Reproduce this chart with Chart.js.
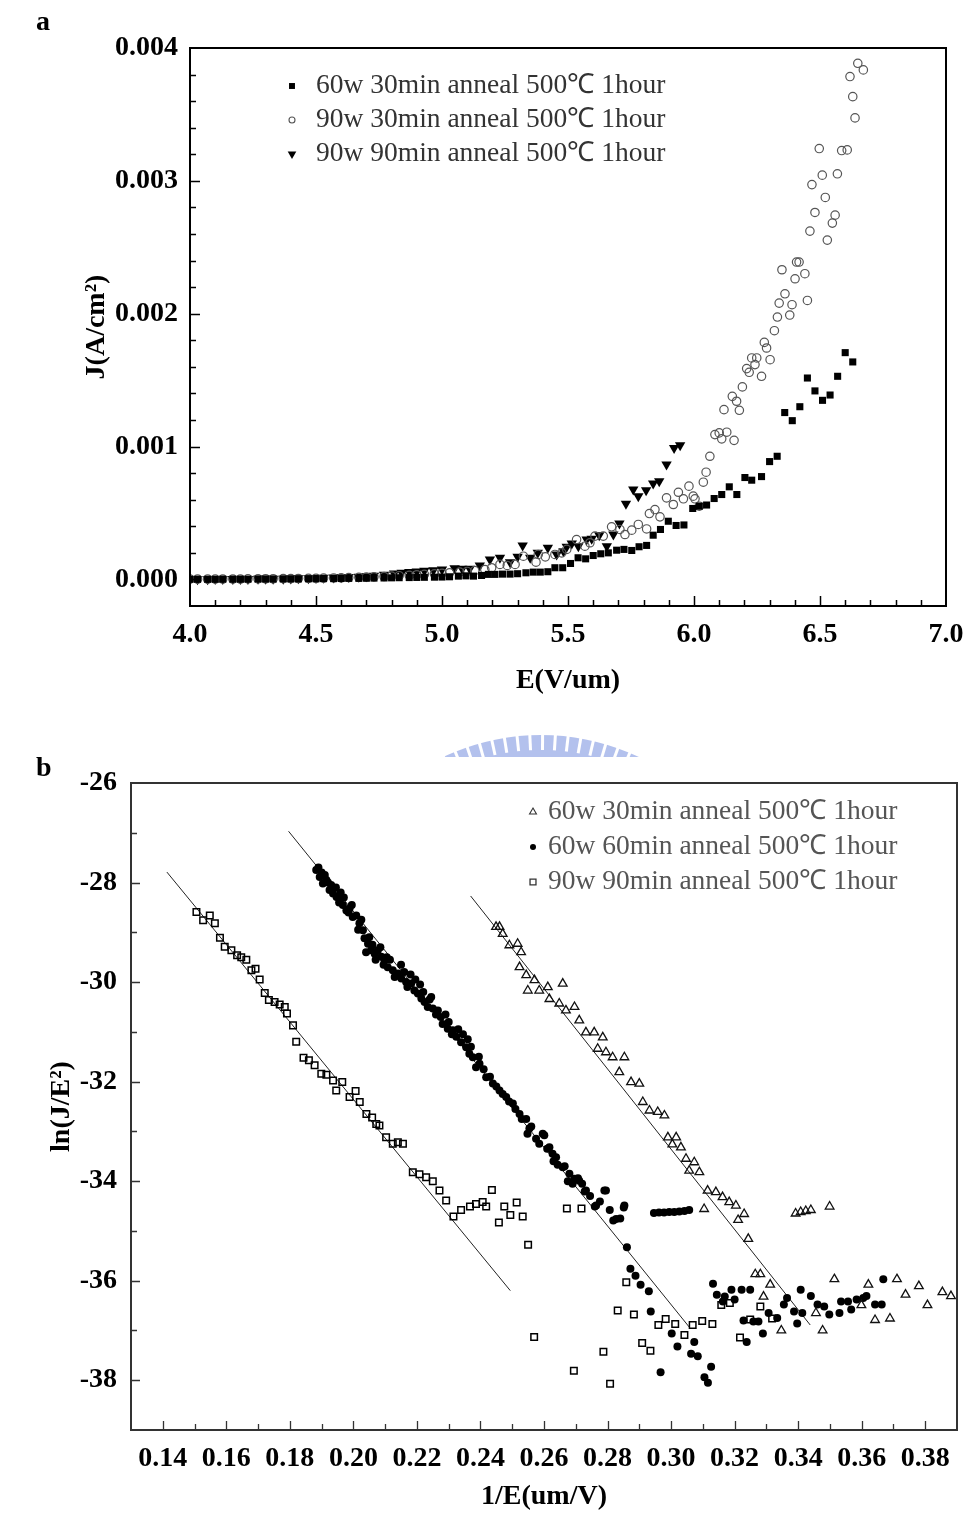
<!DOCTYPE html>
<html>
<head>
<meta charset="utf-8">
<script src="https://cdn.jsdelivr.net/npm/chart.js@4/dist/chart.umd.min.js"></script>
<style>
  html, body { margin: 0; padding: 0; background: #fff; }
  body { width: 965px; height: 1514px; position: relative; overflow: hidden; }
  canvas { position: absolute; left: 0; }
  #logo { top: 720px; z-index: 0; }
  #chartA { top: 0; z-index: 1; }
  #chartB { top: 720px; z-index: 1; }
  .panel { position: absolute; font: bold 28px "Liberation Serif", serif; color: #000; z-index: 2; }
</style>
</head>
<body>
<div class="panel" style="left:36px; top:5px;">a</div>
<div class="panel" style="left:36px; top:751px;">b</div>
<canvas id="logo" width="965" height="60"></canvas>
<canvas id="chartA" width="965" height="710"></canvas>
<canvas id="chartB" width="965" height="794"></canvas>
<script>
// ---------- Panel a: J–E emission curves ----------
const legendA = ['60w 30min anneal 500\u2103 1hour', '90w 30min anneal 500\u2103 1hour', '90w 90min anneal 500\u2103 1hour'];
const tickValsAx = [4.0, 4.5, 5.0, 5.5, 6.0, 6.5, 7.0];
const tickLblAx = ['4.0', '4.5', '5.0', '5.5', '6.0', '6.5', '7.0'];
const tickValsAy = [0, 0.001, 0.002, 0.003, 0.004];
const tickLblAy = ['0.000', '0.001', '0.002', '0.003', '0.004'];

// 60w 30min (filled squares)
const aSqE = [4.00,4.03,4.07,4.10,4.13,4.17,4.20,4.23,4.27,4.30,4.33,4.37,4.40,4.43,4.47,4.50,4.53,4.57,4.60,4.63,4.67,4.70,4.73,4.77,4.80,4.83,4.87,4.90,4.93,4.97,5.00,
  5.03,5.065,5.095,5.125,5.157,5.184,5.21,5.24,5.27,5.30,5.333,5.362,5.39,5.42,5.448,5.479,5.51,5.54,5.57,5.60,5.63,5.66,5.693,5.722,5.753,5.782,5.812,5.838,5.867,5.898,
  5.929,5.96,5.995,6.021,6.05,6.08,6.11,6.14,6.17,6.202,6.229,6.268,6.30,6.33,6.36,6.39,6.42,6.45,6.48,6.51,6.54,6.57,6.60,6.63];
const aSqJ = [0.000001,0.000001,0.000001,0.000001,0.000002,0.000002,0.000002,0.000002,0.000003,0.000003,0.000003,0.000004,0.000004,0.000004,0.000005,0.000005,0.000006,0.000006,0.000007,0.000008,0.000008,0.000009,0.00001,0.000011,0.000012,0.000013,0.000014,0.000015,0.000016,0.000017,0.000018,
  0.00002,0.000025,0.000027,0.000025,0.00003,0.000038,0.000038,0.00004,0.00004,0.000043,0.00005,0.000055,0.000055,0.000058,0.000088,0.000088,0.00012,0.000163,0.000155,0.00018,
  0.000193,0.0002,0.00022,0.000226,0.000218,0.000246,0.000256,0.000333,0.000376,0.000438,0.000406,0.00041,0.000534,0.000551,0.00056,0.000609,0.000639,0.000697,0.000639,0.000767,
  0.000747,0.000774,0.000887,0.000927,0.001256,0.001195,0.0013,0.001516,0.001419,0.001348,0.001388,0.001529,0.001707,0.001637];

// 90w 30min (open circles)
const aCircE = [4.00,4.03,4.07,4.10,4.13,4.17,4.20,4.23,4.27,4.30,4.33,4.37,4.40,4.43,4.47,4.50,4.53,4.57,4.60,4.63,4.67,4.70,4.73,4.77,4.80,4.83,4.87,4.90,4.93,4.97,5.00,5.03,5.07,5.10,5.13,5.17,
  5.197,5.23,5.259,5.29,5.323,5.373,5.382,5.41,5.448,5.475,5.495,5.534,5.567,5.587,5.607,5.64,5.673,5.706,5.726,5.753,5.779,5.812,5.823,5.845,5.865,5.891,5.918,5.938,5.958,5.98,5.997,6.004,6.021,6.037,6.048,6.063,
  6.083,6.100,6.110,6.119,6.130,6.152,6.159,6.169,6.180,6.192,6.209,6.219,6.229,6.242,6.249,6.268,6.279,6.288,6.302,6.319,6.331,6.338,6.349,6.361,6.380,6.389,6.401,6.407,6.417,6.440,6.450,6.460,6.468,6.480,
  6.497,6.509,6.521,6.529,6.549,6.560,6.569,6.586,6.608,6.619,6.630,6.639,6.650,6.672];
const aCircJ = [0.000002,0.000002,0.000002,0.000002,0.000003,0.000003,0.000003,0.000004,0.000004,0.000005,0.000005,0.000006,0.000006,0.000007,0.000008,0.000009,0.00001,0.000011,0.000012,0.000014,0.000016,0.000018,0.00002,0.000022,0.000025,0.000028,0.000031,0.000034,0.000038,0.000042,0.000046,0.00005,0.000055,0.00006,0.000066,0.000074,
  0.000088,0.000113,0.000105,0.000113,0.000175,0.00013,0.000188,0.00017,0.000188,0.0002,0.000226,0.0003,0.00025,0.000276,0.000326,0.000326,0.000396,0.000376,0.000338,0.000371,0.000414,0.00038,0.000496,0.000526,0.000471,0.000614,0.000564,0.000656,0.000607,0.000702,0.000627,0.000607,0.000551,0.000732,0.000807,0.000927,
  0.00109,0.001103,0.001058,0.001278,0.001108,0.001378,0.001047,0.001341,0.001273,0.001449,0.001587,0.001559,0.001667,0.001617,0.001667,0.001529,0.001784,0.001742,0.001654,0.001872,0.001975,0.00208,0.002331,0.00215,0.00199,0.002068,0.002263,0.002389,0.002389,0.002301,0.0021,0.002622,0.002972,0.002762,
  0.003243,0.003043,0.002875,0.002554,0.002682,0.002742,0.003053,0.003228,0.003233,0.003785,0.003634,0.003474,0.003885,0.003835];

// 90w 90min (filled down-triangles)
const aTriE = [4.00,4.03,4.07,4.10,4.13,4.17,4.20,4.23,4.27,4.30,4.33,4.37,4.40,4.43,4.47,4.50,4.53,4.57,4.60,4.63,4.67,4.70,4.73,4.77,
  4.81,4.84,4.87,4.90,4.93,4.966,5.00,5.05,5.08,5.11,5.15,5.19,5.23,5.27,5.30,5.32,5.35,5.38,5.42,5.455,5.482,5.495,5.515,5.541,5.574,5.594,5.624,5.654,5.68,5.704,
  5.73,5.759,5.779,5.81,5.838,5.862,5.891,5.921,5.945];
const aTriJ = [0.000002,0.000002,0.000002,0.000003,0.000003,0.000003,0.000004,0.000004,0.000005,0.000005,0.000006,0.000006,0.000007,0.000008,0.000009,0.00001,0.000012,0.000014,0.000016,0.000018,0.00002,0.000024,0.000028,0.000035,
  0.000045,0.00005,0.000055,0.00006,0.000065,0.00007,0.000075,0.000085,0.00008,0.00008,0.000105,0.00015,0.000163,0.00013,0.00017,0.000255,0.000163,0.0002,0.000238,0.000188,0.000213,0.000246,0.000271,0.00025,0.0003,0.000306,0.000333,0.00025,0.000338,0.000421,
  0.000569,0.000677,0.000627,0.000671,0.000722,0.000739,0.000865,0.00099,0.00101];

// ---------- Panel b: Fowler–Nordheim plot ----------
const legendB = ['60w 30min anneal 500\u2103 1hour', '60w 60min anneal 500\u2103 1hour', '90w 90min anneal 500\u2103 1hour'];
const tickValsBx = [0.14,0.16,0.18,0.20,0.22,0.24,0.26,0.28,0.30,0.32,0.34,0.36,0.38];
const tickLblBx = ['0.14','0.16','0.18','0.20','0.22','0.24','0.26','0.28','0.30','0.32','0.34','0.36','0.38'];
const tickValsBy = [-26,-28,-30,-32,-34,-36,-38];
const tickLblBy = ['-26','-28','-30','-32','-34','-36','-38'];

// 60w 30min (open triangles)
const bTriX = [0.2449,0.2460,0.2470,0.2491,0.2517,0.2528,0.2523,0.2544,0.2549,0.2570,0.2585,0.2612,0.2617,0.2659,0.2648,0.2669,0.2696,0.2711,0.2732,0.2758,0.2785,0.2769,0.2795,0.2816,0.2853,0.2837,0.2874,0.2900,0.2911,0.2932,
  0.2958,0.2979,0.2990,0.3016,0.3031,0.3047,0.3057,0.3089,0.3073,0.3115,0.3141,0.3162,0.3183,0.3204,0.3230,0.3104,0.3004,0.3211,0.3243,0.3392,0.3408,0.3424,0.3440,0.3499,
  0.3265,0.3281,0.3312,0.3291,0.3347,0.3456,0.3477,0.3514,0.3621,0.3599,0.3642,0.3689,0.3711,0.3738,0.3780,0.3807,0.3854,0.3881];
const bTriY = [-28.89,-28.89,-29.03,-29.26,-29.23,-29.40,-29.70,-29.86,-30.17,-29.96,-30.17,-30.10,-30.34,-30.03,-30.43,-30.57,-30.50,-30.77,-31.01,-31.01,-31.11,-31.34,-31.41,-31.51,-31.51,-31.81,-32.01,-32.04,-32.41,-32.58,
  -32.61,-32.68,-33.12,-33.12,-33.32,-33.55,-33.79,-33.82,-33.62,-34.19,-34.22,-34.32,-34.42,-34.49,-34.66,-34.56,-33.26,-34.78,-35.16,-34.65,-34.62,-34.60,-34.58,-34.51,
  -35.87,-35.87,-36.08,-36.32,-37.00,-36.65,-37.00,-35.97,-36.08,-36.49,-36.79,-36.76,-35.97,-36.28,-36.11,-36.49,-36.23,-36.31];

// 60w 60min (filled circles)
const bCircX = [0.1883,0.1894,0.1904,0.1915,0.1925,0.1936,0.1947,0.1957,0.1967,0.1978,0.1988,0.1998,0.2009,0.2019,0.2030,0.2035,0.2046,0.2056,0.2067,0.2077,
  0.2088,0.2098,0.2108,0.2124,0.2140,0.2151,0.2166,0.2182,0.2192,0.2203,0.2214,0.2224,0.2234,0.2250,0.2266,0.2281,0.2297,0.2313,0.2324,0.2339,
  0.2355,0.2365,0.2376,0.2386,0.1900,0.1930,0.1960,0.2040,0.2070,0.2105,0.2150,0.2180,0.2210,0.2245,0.2275,0.2300,0.2330,0.2360,
  0.2397,0.2418,0.2439,0.2460,0.2481,0.2502,0.2523,0.2544,0.2554,0.2575,0.2601,0.2617,0.2638,0.2659,0.2680,0.2696,0.2711,0.2732,0.2764,0.2795,0.2827,0.2853,
  0.1890,0.1910,0.1920,0.1945,0.1955,0.1970,0.1985,0.1995,0.2015,0.2025,0.2050,0.2060,0.2085,0.2095,0.2115,0.2130,0.2160,0.2170,0.2195,0.2220,
  0.2240,0.2260,0.2290,0.2310,0.2345,0.2370,0.2395,0.2410,0.2430,0.2450,0.2470,0.2490,0.2510,0.2530,0.2560,0.2585,0.2610,0.2630,0.2665,0.2690,0.2720,0.2745,
  0.2596,0.2627,0.2548,0.2643,0.2675,0.2707,0.2728,0.2760,0.2790,0.2776,0.2807,0.2818,0.2851,0.2840,
  0.2861,0.2872,0.2888,0.2904,0.2930,0.2936,0.2967,0.3002,0.3020,0.3073,0.3063,0.3084,0.3126,0.3105,0.3116,
  0.2946,0.2962,0.2978,0.2994,0.3010,0.3026,0.3042,0.3057,
  0.3132,0.3144,0.3169,0.3190,0.3222,0.3249,0.3163,0.3200,0.3228,0.3259,0.3275,0.3289,0.3238,0.3307,0.3334,0.3355,0.3365,0.3387,0.3397,0.3413,
  0.3440,0.3461,0.3482,0.3498,0.3530,0.3535,0.3557,0.3567,0.3584,0.3605,0.3615,0.3642,0.3663,0.3668,0.3408];
const bCircY = [-27.75,-27.89,-28.02,-27.95,-28.15,-28.22,-28.29,-28.35,-28.45,-28.56,-28.52,-28.69,-28.66,-28.82,-28.96,-29.12,-29.23,-29.36,-29.43,-29.36,
  -29.49,-29.56,-29.70,-29.76,-29.83,-29.93,-30.00,-30.03,-30.17,-30.23,-30.33,-30.40,-30.50,-30.53,-30.57,-30.84,-30.94,-30.97,-31.10,-31.21,
  -31.31,-31.44,-31.51,-31.71,-27.80,-28.05,-28.20,-29.40,-29.55,-29.50,-29.65,-29.85,-30.05,-30.30,-30.70,-30.80,-30.95,-31.15,
  -31.64,-31.91,-32.04,-32.18,-32.31,-32.44,-32.65,-32.75,-32.94,-33.15,-33.08,-33.32,-33.52,-33.72,-33.85,-33.95,-33.99,-34.19,-34.49,-34.19,-34.76,-34.49,
  -27.70,-27.85,-28.00,-28.10,-28.40,-28.30,-28.60,-28.45,-28.95,-28.75,-29.10,-29.25,-29.30,-29.65,-29.55,-29.90,-29.80,-30.10,-29.95,-30.20,
  -30.35,-30.65,-30.65,-31.05,-31.05,-31.30,-31.50,-31.75,-31.90,-32.10,-32.25,-32.40,-32.55,-32.75,-32.90,-33.25,-33.35,-33.60,-33.70,-34.05,-34.05,-34.30,
  -33.05,-33.45,-33.05,-33.67,-34.00,-33.94,-34.21,-34.51,-34.19,-34.41,-34.58,-34.79,-34.53,-34.75,
  -35.33,-35.76,-35.90,-36.08,-36.21,-36.62,-37.84,-37.06,-37.32,-37.23,-37.47,-37.52,-37.73,-37.94,-38.05,
  -34.64,-34.63,-34.63,-34.62,-34.62,-34.61,-34.60,-34.58,
  -36.06,-36.28,-36.32,-36.18,-36.18,-36.18,-36.42,-36.38,-36.80,-36.82,-36.82,-37.06,-37.23,-36.65,-36.75,-36.48,-36.35,-36.62,-36.86,-36.65,
  -36.31,-36.48,-36.52,-36.68,-36.65,-36.42,-36.42,-36.58,-36.38,-36.35,-36.31,-36.48,-36.48,-35.97,-36.18];

// 90w 90min (open squares)
const bSqX = [0.1506,0.1527,0.1548,0.1564,0.1580,0.1595,0.1616,0.1634,0.1647,0.1663,0.1679,0.1692,0.1705,0.1721,0.1734,0.1752,0.1768,0.1784,0.1791,0.1810,
  0.1820,0.1843,0.1860,0.1878,0.1899,0.1915,0.1936,0.1946,0.1965,0.1988,0.2007,0.2020,0.2041,0.2059,0.2072,0.2082,0.2103,0.2124,0.2140,0.2156,
  0.2187,0.2208,0.2229,0.2250,0.2271,0.2292,0.2315,0.2339,0.2367,0.2386,0.2407,0.2418,0.2436,0.2458,0.2475,0.2494,0.2514,0.2533,0.2550,0.2569,
  0.2672,0.2694,0.2718,0.2787,0.2808,0.2832,0.2859,0.2883,0.2909,0.2935,0.2960,0.2983,0.3013,0.3042,0.3068,0.3098,0.3130,0.3158,0.3185,0.3217,0.3249,0.3281,0.3318];
const bSqY = [-28.59,-28.76,-28.66,-28.82,-29.11,-29.29,-29.36,-29.46,-29.50,-29.55,-29.76,-29.73,-29.95,-30.22,-30.36,-30.40,-30.45,-30.50,-30.63,-30.87,
  -31.20,-31.52,-31.57,-31.67,-31.84,-31.86,-31.98,-32.18,-32.01,-32.31,-32.19,-32.41,-32.65,-32.72,-32.85,-32.88,-33.12,-33.25,-33.22,-33.25,
  -33.82,-33.86,-33.92,-34.00,-34.19,-34.39,-34.71,-34.58,-34.51,-34.46,-34.42,-34.51,-34.18,-34.83,-34.51,-34.68,-34.43,-34.71,-35.28,-37.13,
  -34.55,-37.81,-34.55,-37.43,-38.07,-36.60,-36.03,-36.68,-37.25,-37.41,-36.89,-36.77,-36.87,-37.09,-36.89,-36.81,-36.87,-36.49,-36.45,-37.14,-36.78,-36.52,-36.76];

// Linear fits of the emission regions
const fitTriX = [0.2369, 0.3438], fitTriY = [-28.27, -36.89];
const fitCircX = [0.1796, 0.3057], fitCircY = [-26.97, -36.93];
const fitSqX = [0.1413, 0.2494], fitSqY = [-27.79, -36.20];

// ---------- helpers ----------
const pts = (xs, ys) => xs.map((x, i) => ({ x: x, y: ys[i] }));
const SERIF = '"Liberation Serif", "Times New Roman", serif';

function frameTicks(o) {
  return {
    id: 'frameTicks',
    afterDraw(chart) {
      const { ctx, chartArea: a, scales: { x, y } } = chart;
      ctx.save();
      ctx.strokeStyle = o.color;
      ctx.lineWidth = o.frameW;
      ctx.strokeRect(a.left, a.top, a.right - a.left, a.bottom - a.top);
      ctx.lineWidth = o.tickW;
      ctx.beginPath();
      const nx = Math.round((o.x1 - o.x0) / o.xs);
      for (let i = 0; i <= nx; i++) {
        const v = o.x0 + i * o.xs;
        if (v <= x.min + 1e-9 || v >= x.max - 1e-9) continue;
        const p = Math.round(x.getPixelForValue(v)) + 0.5;
        const len = (i % o.xMajEvery === o.xMajOff) ? o.major : o.minor;
        ctx.moveTo(p, a.bottom); ctx.lineTo(p, a.bottom - len);
      }
      const ny = Math.round((o.y1 - o.y0) / o.ys);
      for (let i = 0; i <= ny; i++) {
        const v = o.y0 + i * o.ys;
        if (v <= y.min + 1e-12 || v >= y.max - 1e-12) continue;
        const p = Math.round(y.getPixelForValue(v)) + 0.5;
        const len = (i % o.yMajEvery === o.yMajOff) ? o.major : o.minor;
        ctx.moveTo(a.left, p); ctx.lineTo(a.left + len, p);
      }
      ctx.stroke();
      ctx.restore();
    }
  };
}

function legendBox(items, o) {
  return {
    id: 'legendBox',
    afterDraw(chart) {
      const ctx = chart.ctx;
      ctx.save();
      ctx.font = o.font;
      ctx.textBaseline = 'middle';
      items.forEach((it, i) => {
        const yy = o.y0 + i * o.dy;
        ctx.fillStyle = it.fill;
        ctx.strokeStyle = it.stroke;
        ctx.lineWidth = it.lw;
        Chart.helpers.drawPoint(ctx, { pointStyle: it.style, rotation: it.rot || 0, radius: it.r, borderWidth: it.lw }, o.mx, yy);
        ctx.fillStyle = o.color;
        ctx.fillText(it.label, o.tx, yy);
      });
      ctx.restore();
    }
  };
}

function axisCfg(o) {
  return {
    type: 'linear',
    min: o.min, max: o.max,
    grid: { display: false, drawTicks: false },
    border: { display: false },
    ticks: {
      autoSkip: false, maxRotation: 0, padding: o.pad,
      color: '#000',
      font: { family: SERIF, size: 28, weight: 'bold' },
      callback: (v, i) => o.labels[i]
    },
    afterBuildTicks(s) { s.ticks = o.vals.map(v => ({ value: v })); },
    afterFit(s) {
      if (o.w) s.width = o.w;
      if (o.h) { s.height = o.h; s.paddingLeft = 0; s.paddingRight = 0; }
    },
    title: {
      display: true, text: o.title, color: '#000',
      font: { family: SERIF, size: 28, weight: 'bold' },
      padding: o.tpad
    }
  };
}

// ---------- chart a ----------
new Chart(document.getElementById('chartA'), {
  type: 'scatter',
  data: {
    datasets: [
      { label: legendA[0], data: pts(aSqE, aSqJ), pointStyle: 'rect', pointRadius: 5, backgroundColor: '#000', borderColor: '#000', borderWidth: 0 },
      { label: legendA[1], data: pts(aCircE, aCircJ), pointStyle: 'circle', pointRadius: 4.2, backgroundColor: 'rgba(0,0,0,0)', borderColor: '#555', borderWidth: 1.2 },
      { label: legendA[2], data: pts(aTriE, aTriJ), pointStyle: 'triangle', rotation: 180, pointRadius: 6, backgroundColor: '#000', borderColor: '#000', borderWidth: 0 }
    ]
  },
  options: {
    responsive: false, animation: false,
    layout: { padding: { left: 0, right: 19, top: 48, bottom: 0 } },
    plugins: { legend: { display: false }, tooltip: { enabled: false } },
    scales: {
      x: axisCfg({ min: 4, max: 7, vals: tickValsAx, labels: tickLblAx, pad: 12, h: 104, title: 'E(V/um)', tpad: { top: 0, bottom: 12 } }),
      y: axisCfg({ min: -0.0002, max: 0.004, vals: tickValsAy, labels: tickLblAy, pad: 12, w: 190, title: 'J(A/cm\u00b2)', tpad: { top: 80, bottom: 0 } })
    }
  },
  plugins: [
    frameTicks({ color: '#000', frameW: 2, tickW: 1.5, major: 10, minor: 6,
      x0: 4, x1: 7, xs: 0.1, xMajEvery: 5, xMajOff: 0,
      y0: 0, y1: 0.004, ys: 0.0002, yMajEvery: 5, yMajOff: 0 }),
    legendBox([
      { label: legendA[0], style: 'rect', r: 4.2, fill: '#000', stroke: '#000', lw: 0 },
      { label: legendA[1], style: 'circle', r: 3, fill: 'rgba(0,0,0,0)', stroke: '#555', lw: 1.1 },
      { label: legendA[2], style: 'triangle', rot: 180, r: 5, fill: '#000', stroke: '#000', lw: 0 }
    ], { font: '27.5px ' + SERIF, color: '#333', mx: 292, tx: 316, y0: 86, dy: 34 })
  ]
});

// ---------- chart b ----------
new Chart(document.getElementById('chartB'), {
  type: 'scatter',
  data: {
    datasets: [
      { label: legendB[0], data: pts(bTriX, bTriY), pointStyle: 'triangle', pointRadius: 5, backgroundColor: 'rgba(0,0,0,0)', borderColor: '#111', borderWidth: 1.3 },
      { label: legendB[1], data: pts(bCircX, bCircY), pointStyle: 'circle', pointRadius: 4, backgroundColor: '#000', borderColor: '#000', borderWidth: 0 },
      { label: legendB[2], data: pts(bSqX, bSqY), pointStyle: 'rect', pointRadius: 4.6, backgroundColor: 'rgba(0,0,0,0)', borderColor: '#000', borderWidth: 1.5 },
      { type: 'line', label: 'fit 1', data: pts(fitTriX, fitTriY), borderColor: '#222', borderWidth: 1, pointRadius: 0, fill: false },
      { type: 'line', label: 'fit 2', data: pts(fitCircX, fitCircY), borderColor: '#222', borderWidth: 1, pointRadius: 0, fill: false },
      { type: 'line', label: 'fit 3', data: pts(fitSqX, fitSqY), borderColor: '#222', borderWidth: 1, pointRadius: 0, fill: false }
    ]
  },
  options: {
    responsive: false, animation: false,
    layout: { padding: { left: 0, right: 8, top: 63, bottom: 0 } },
    plugins: { legend: { display: false }, tooltip: { enabled: false } },
    scales: {
      x: axisCfg({ min: 0.13, max: 0.39, vals: tickValsBx, labels: tickLblBx, pad: 12, h: 84, title: '1/E(um/V)', tpad: { top: 0, bottom: 0 } }),
      y: axisCfg({ min: -39, max: -26, vals: tickValsBy, labels: tickLblBy, pad: 14, w: 131, title: 'ln(J/E\u00b2)', tpad: { top: 45, bottom: 0 } })
    }
  },
  plugins: [
    frameTicks({ color: '#333', frameW: 2, tickW: 1.3, major: 9, minor: 6,
      x0: 0.13, x1: 0.39, xs: 0.01, xMajEvery: 2, xMajOff: 1,
      y0: -39, y1: -26, ys: 1, yMajEvery: 2, yMajOff: 1 }),
    legendBox([
      { label: legendB[0], style: 'triangle', r: 4, fill: 'rgba(0,0,0,0)', stroke: '#333', lw: 1.1 },
      { label: legendB[1], style: 'circle', r: 3, fill: '#000', stroke: '#000', lw: 0 },
      { label: legendB[2], style: 'rect', r: 4.2, fill: 'rgba(0,0,0,0)', stroke: '#333', lw: 1.3 }
    ], { font: '27.5px ' + SERIF, color: '#555', mx: 533, tx: 548, y0: 92, dy: 35 })
  ]
});

// ---------- faint emblem between the panels ----------
(function () {
  const c = document.getElementById('logo').getContext('2d');
  const cx = 541, cy = 244, r0 = 212, r1 = 229; // canvas starts at page y = 720
  c.save();
  c.beginPath(); c.rect(440, 12, 205, 25); c.clip();
  c.fillStyle = 'rgba(160,178,232,0.8)';
  c.beginPath(); c.arc(cx, cy, r1, Math.PI, 2 * Math.PI); c.arc(cx, cy, r0 - 8, 2 * Math.PI, Math.PI, true); c.closePath(); c.fill();
  c.strokeStyle = '#fff'; c.lineWidth = 3;
  for (let a = 200; a <= 340; a += 3.2) {
    const t = a * Math.PI / 180;
    c.beginPath();
    c.moveTo(cx + Math.cos(t) * (r0 + 2), cy + Math.sin(t) * (r0 + 2));
    c.lineTo(cx + Math.cos(t) * (r1 + 2), cy + Math.sin(t) * (r1 + 2));
    c.stroke();
  }
  c.restore();
})();
</script>
</body>
</html>
